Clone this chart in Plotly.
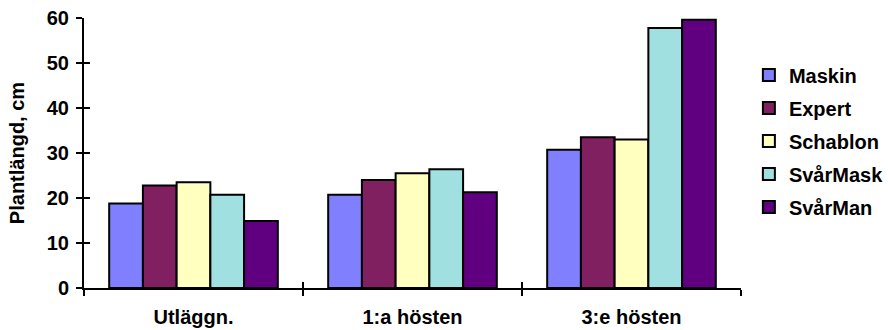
import plotly.graph_objects as go

categories = ["Utläggn.", "1:a hösten", "3:e hösten"]
series_names = ["Maskin", "Expert", "Schablon", "SvårMask", "SvårMan"]
maskin = [18.8, 20.7, 30.7]
expert = [22.8, 24.0, 33.5]
schablon = [23.5, 25.5, 33.0]
svarmask = [20.7, 26.4, 57.8]
svarman = [14.9, 21.3, 59.6]
colors = ["#8080FF", "#802060", "#FFFFC0", "#A0E0E0", "#600080"]
y_ticks = [0, 10, 20, 30, 40, 50, 60]

values = [maskin, expert, schablon, svarmask, svarman]
FS = 20
FONT = dict(family="Liberation Sans, Arial, sans-serif", size=FS, color="black", weight="bold")

fig = go.Figure()
for name, vals, col in zip(series_names, values, colors):
    fig.add_trace(go.Bar(
        x=categories, y=vals, name=name,
        marker=dict(color=col, line=dict(color="black", width=2)),
        legendgroup=name,
    ))

# invisible helper trace to drive overlay axes (inside half of the crossing ticks)
fig.add_trace(go.Scatter(
    x=categories, y=[0] * len(categories), xaxis="x2", yaxis="y2",
    mode="markers", marker=dict(opacity=0), showlegend=False, hoverinfo="skip",
))

fig.update_layout(
    width=888, height=330,
    margin=dict(l=84, r=147, t=18, b=42, autoexpand=False),
    plot_bgcolor="white", paper_bgcolor="white",
    font=FONT,
    barmode="group", bargap=0.23, bargroupgap=0,
    showlegend=True,
    legend=dict(x=1.012, xanchor="left", y=0.544, yanchor="middle",
                font=dict(size=FS), itemwidth=30, tracegroupgap=4,
                bgcolor="rgba(0,0,0,0)"),
    xaxis=dict(type="category", categoryorder="array", categoryarray=categories,
               range=[-0.5, 2.5], showline=True, linecolor="black", linewidth=2,
               ticks="outside", tickson="boundaries", ticklen=6, tickwidth=2,
               tickcolor="black", showgrid=False, zeroline=False, automargin=False,
               tickfont=dict(size=FS), ticklabelstandoff=10),
    yaxis=dict(range=[0, 60], tickvals=y_ticks, showline=True, linecolor="black",
               linewidth=2, ticks="outside", ticklen=6, tickwidth=2, tickcolor="black",
               showgrid=False, zeroline=False, automargin=False,
               tickfont=dict(size=FS), ticklabelstandoff=3,
               title=dict(text="Plantlängd, cm", standoff=17, font=dict(size=FS))),
    xaxis2=dict(type="category", categoryorder="array", categoryarray=categories,
                range=[-0.5, 2.5], overlaying="x", anchor="y2", showline=False,
                ticks="inside", tickson="boundaries", ticklen=6, tickwidth=2,
                tickcolor="black", showticklabels=False, showgrid=False, zeroline=False),
    yaxis2=dict(range=[0, 60], tickvals=y_ticks, overlaying="y", anchor="x2",
                showline=False, ticks="inside", ticklen=6, tickwidth=2,
                tickcolor="black", showticklabels=False, showgrid=False, zeroline=False),
)

fig.write_html("out.html", config={"displayModeBar": False},
               post_script="document.body.style.margin='0';document.body.style.overflow='hidden';")
